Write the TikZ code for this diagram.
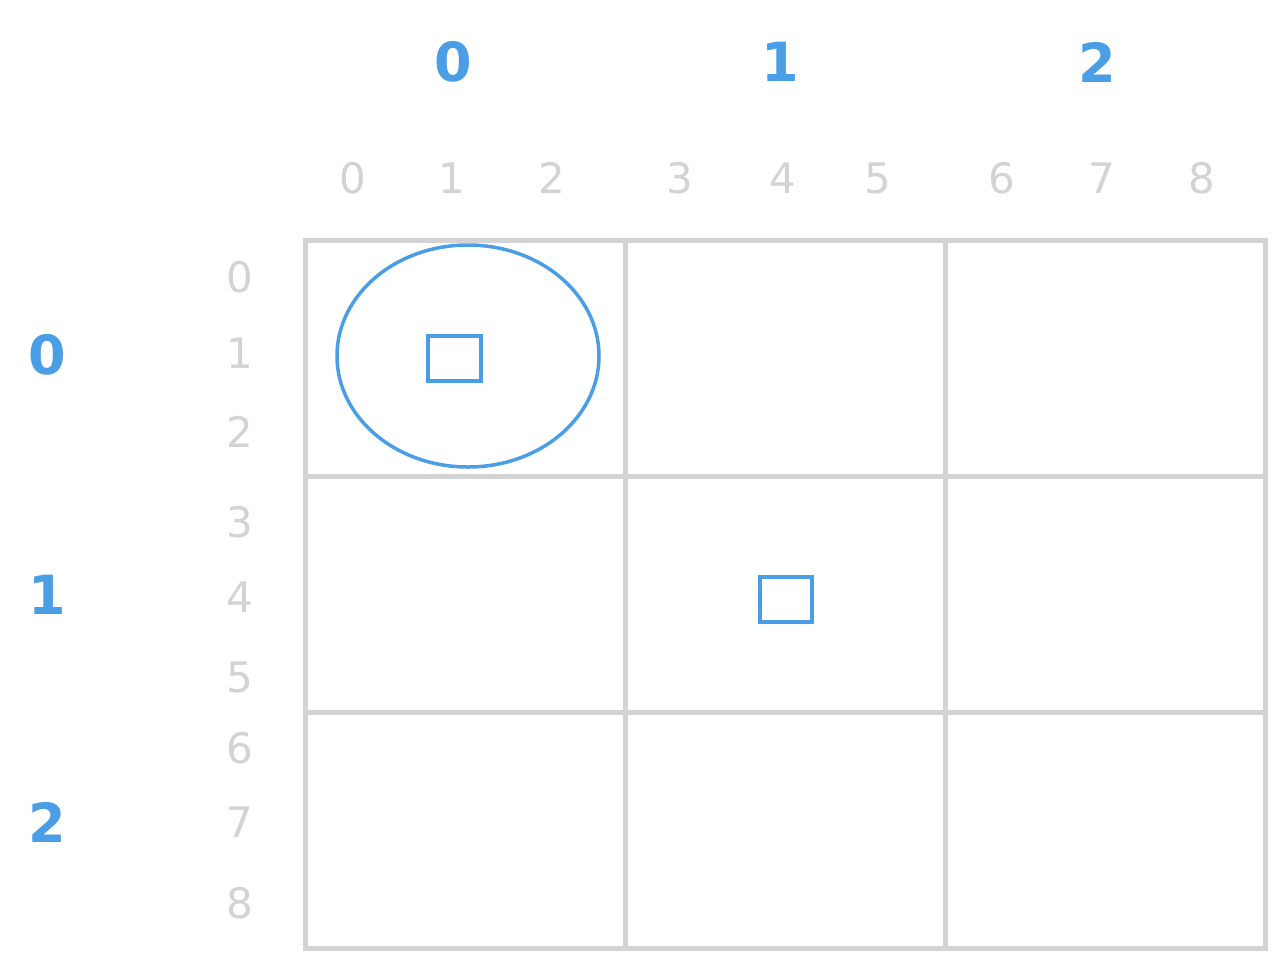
\documentclass[tikz,border=0pt]{standalone}
\usepackage{fontspec}
\setmainfont{DejaVu Sans}
\usepackage{xcolor}
\usetikzlibrary{shapes.geometric, positioning}

\definecolor{gridgray}{RGB}{211,211,211}
\definecolor{accent}{RGB}{74,158,230}

\begin{document}
\begin{tikzpicture}[
  x = 1pt, y = -1pt,
  cell/.style     = {rectangle, draw=gridgray, line width=5pt,
                     minimum width=320pt, minimum height=236pt, inner sep=0pt},
  biglabel/.style = {text=accent, font=\fontsize{54}{54}\selectfont\bfseries, inner sep=0pt},
  smalllabel/.style = {text=gridgray, font=\fontsize{42}{42}\selectfont, inner sep=0pt},
  markbox/.style  = {rectangle, draw=accent, line width=3.5pt, inner sep=0pt},
  ring/.style     = {ellipse, draw=accent, line width=3.5pt, inner sep=0pt},
]
\useasboundingbox (0,0) rectangle (1287,970);

%% ── Grid of 3x3 blocks ───────────────────────────────────────────────────
\foreach \r in {0,1,2}
  \foreach \c in {0,1,2}
    \node[cell] (cell-\r-\c) at ({465+320*\c},{358+236*\r}) {};

%% ── Block indices (blue) ─────────────────────────────────────────────────
\foreach \c/\x in {0/453, 1/780, 2/1097}
  \node[biglabel] (colhead-\c) at (\x,62) {\c};
\foreach \r/\y in {0/355, 1/595, 2/822}
  \node[biglabel] (rowhead-\r) at (47,\y) {\r};

%% ── Cell indices (gray) ──────────────────────────────────────────────────
\foreach \i/\x in {0/353, 1/452, 2/552, 3/680, 4/783, 5/878, 6/1002, 7/1102, 8/1202}
  \node[smalllabel] (colidx-\i) at (\x,178) {\i};
\foreach \i/\y in {0/277, 1/353, 2/432, 3/522, 4/597, 5/677, 6/748, 7/822, 8/903}
  \node[smalllabel] (rowidx-\i) at (240,\y) {\i};

%% ── Marked cells ─────────────────────────────────────────────────────────
\node[markbox, minimum width=53pt, minimum height=45pt] (pick-a) at (454.5,358.5) {};
\node[markbox, minimum width=52pt, minimum height=45pt] (pick-b) at (786,599.5) {};
\node[ring, minimum width=262pt, minimum height=222pt] (ring-a) at (468,356) {};

\end{tikzpicture}
\end{document}
